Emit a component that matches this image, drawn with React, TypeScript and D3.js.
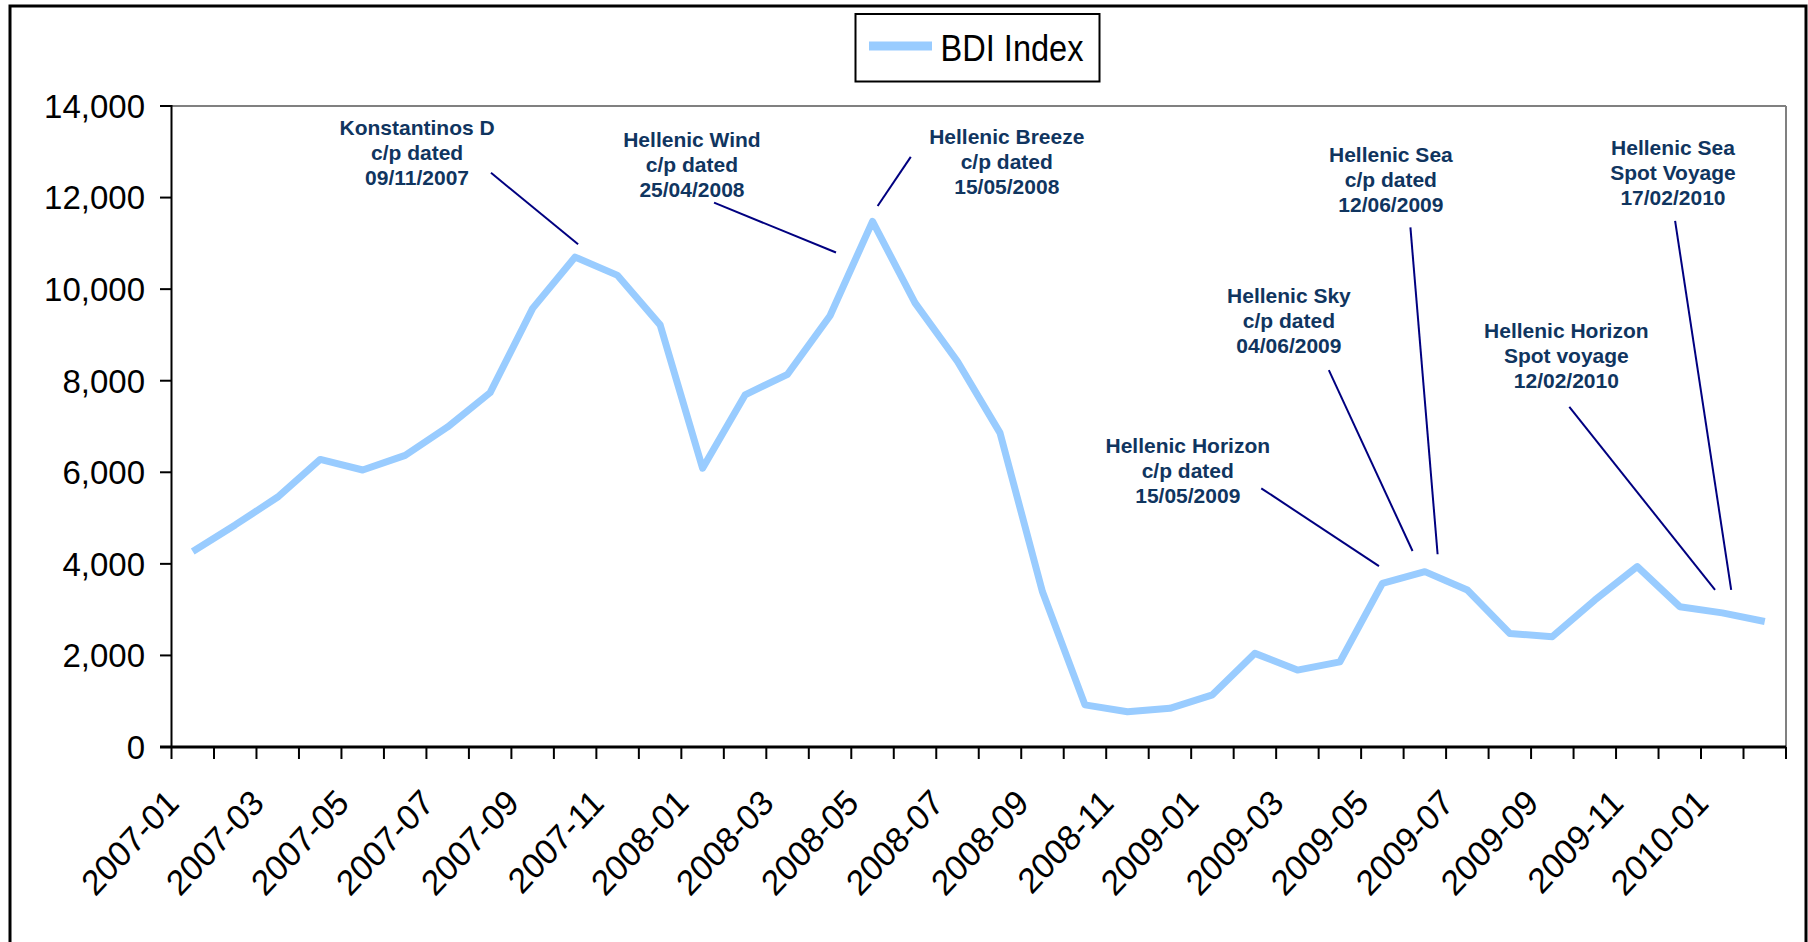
import React from 'react';
import * as d3 from 'd3';

// Monthly Baltic Dry Index averages
const months = [
  '2007-01', '2007-02', '2007-03', '2007-04', '2007-05', '2007-06',
  '2007-07', '2007-08', '2007-09', '2007-10', '2007-11', '2007-12',
  '2008-01', '2008-02', '2008-03', '2008-04', '2008-05', '2008-06',
  '2008-07', '2008-08', '2008-09', '2008-10', '2008-11', '2008-12',
  '2009-01', '2009-02', '2009-03', '2009-04', '2009-05', '2009-06',
  '2009-07', '2009-08', '2009-09', '2009-10', '2009-11', '2009-12',
  '2010-01', '2010-02',
];

const bdiValues = [
  4270, 4850, 5460, 6280, 6050, 6370,
  6990, 7740, 9580, 10700, 10300, 9220,
  6090, 7690, 8140, 9420, 11480, 9700,
  8420, 6860, 3390, 920, 770, 845,
  1140, 2045, 1680, 1860, 3575, 3830,
  3430, 2480, 2410, 3210, 3940, 3065,
  2930, 2740,
];

const yTicks = [0, 2000, 4000, 6000, 8000, 10000, 12000, 14000];

// Every second month carries a label
const labelledMonths = months.filter((_, i) => i % 2 === 0);

// Fixture annotations, placed in chart units (month index, index value)
const fixtureLabels = [
  ['Konstantinos D', 'c/p dated', '09/11/2007'],
  ['Hellenic Wind', 'c/p dated', '25/04/2008'],
  ['Hellenic Breeze', 'c/p dated', '15/05/2008'],
  ['Hellenic Sea', 'c/p dated', '12/06/2009'],
  ['Hellenic Sea', 'Spot Voyage', '17/02/2010'],
  ['Hellenic Sky', 'c/p dated', '04/06/2009'],
  ['Hellenic Horizon', 'Spot voyage', '12/02/2010'],
  ['Hellenic Horizon', 'c/p dated', '15/05/2009'],
];
const fixtureTextAt = [
  [5.78, 13370], [12.25, 13110], [19.66, 13160], [28.7, 12780],
  [35.34, 12930], [26.3, 9690], [32.83, 8930], [23.92, 6430],
];
const fixtureLeaders = [
  [[7.52, 12540], [9.57, 10980]],
  [[12.77, 11890], [15.64, 10800]],
  [[17.4, 12890], [16.62, 11815]],
  [[29.16, 11350], [29.8, 4210]],
  [[35.39, 11490], [36.71, 3430]],
  [[27.24, 8230], [29.21, 4280]],
  [[32.9, 7430], [36.33, 3430]],
  [[25.65, 5650], [28.42, 3950]],
];

const W = 1808;
const H = 942;
const plot = { left: 171.5, right: 1786, top: 106, bottom: 747 };
const FONT = '"Liberation Sans", Arial, Helvetica, sans-serif';
const LINE_BLUE = '#99CCFF';
const NOTE_TEXT = '#10355F';
const NOTE_LINE = '#000080';

export default function App() {
  const x = d3.scaleLinear().domain([0, months.length]).range([plot.left, plot.right]);
  const y = d3.scaleLinear().domain([0, 14000]).range([plot.bottom, plot.top]);

  const line = d3
    .line<number>()
    .x((_, i) => x(i + 0.5))
    .y((d) => y(d));

  const boundaries = d3.range(months.length + 1);

  return (
    <svg
      width={W}
      height={H}
      style={{ position: 'absolute', left: 0, top: 0, background: '#fff' }}
      fontFamily={FONT}
    >
      <rect x={0} y={0} width={W} height={H} fill="#fff" />
      {/* outer frame, runs past the bottom edge */}
      <rect x={10} y={6} width={1796} height={1000} fill="none" stroke="#000" strokeWidth={3} />

      {/* plot area border */}
      <line x1={plot.left} x2={plot.right} y1={plot.top} y2={plot.top} stroke="#808080" strokeWidth={2} />
      <line x1={plot.right} x2={plot.right} y1={plot.top} y2={plot.bottom} stroke="#808080" strokeWidth={2} />

      {/* y axis */}
      <line x1={plot.left} x2={plot.left} y1={plot.top - 1} y2={plot.bottom} stroke="#000" strokeWidth={2} />
      {yTicks.map((t) => (
        <g key={t}>
          <line x1={160} x2={plot.left} y1={y(t)} y2={y(t)} stroke="#000" strokeWidth={2} />
          <text x={145} y={y(t)} dy="0.36em" textAnchor="end" fontSize={33} fill="#000">
            {d3.format(',')(t)}
          </text>
        </g>
      ))}

      {/* x axis */}
      {boundaries.map((b) => (
        <line key={b} x1={x(b)} x2={x(b)} y1={plot.bottom} y2={plot.bottom + 12} stroke="#000" strokeWidth={2} />
      ))}
      <line x1={160} x2={plot.right} y1={plot.bottom} y2={plot.bottom} stroke="#000" strokeWidth={3} />
      {labelledMonths.map((m) => {
        const i = months.indexOf(m);
        const px = x(i + 0.5) - 12;
        const py = 805;
        return (
          <text
            key={m}
            transform={`translate(${px},${py}) scale(1,1.08) rotate(-45)`}
            textAnchor="end"
            fontSize={33}
            fill="#000"
          >
            {m}
          </text>
        );
      })}

      {/* BDI series */}
      <path
        d={line(bdiValues) || ''}
        fill="none"
        stroke={LINE_BLUE}
        strokeWidth={7}
        strokeLinejoin="round"
        strokeLinecap="butt"
      />

      {/* fixture notes */}
      {fixtureLabels.map((lines, k) => {
        const [tx, ty] = fixtureTextAt[k];
        const [[ax, ay], [bx, by]] = fixtureLeaders[k];
        return (
          <g key={k}>
            <line x1={x(ax)} y1={y(ay)} x2={x(bx)} y2={y(by)} stroke={NOTE_LINE} strokeWidth={2} />
            <text x={x(tx)} y={y(ty)} textAnchor="middle" fontSize={21} fontWeight="bold" fill={NOTE_TEXT}>
              {lines.map((s, j) => (
                <tspan key={j} x={x(tx)} dy={j === 0 ? 0 : 25}>
                  {s}
                </tspan>
              ))}
            </text>
          </g>
        );
      })}

      {/* legend */}
      <rect x={855.5} y={14} width={244} height={67.5} fill="#fff" stroke="#000" strokeWidth={2} />
      <line x1={869} x2={932} y1={46} y2={46} stroke={LINE_BLUE} strokeWidth={9} />
      <text x={940.5} y={60.5} fontSize={37} textLength={143} lengthAdjust="spacingAndGlyphs" fill="#000">
        BDI Index
      </text>
    </svg>
  );
}
